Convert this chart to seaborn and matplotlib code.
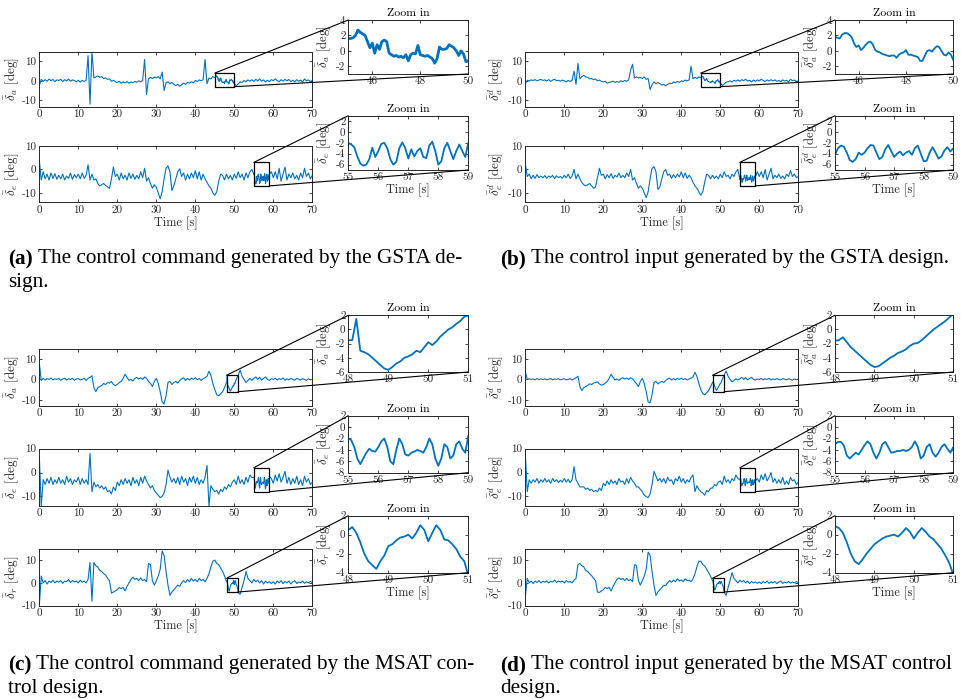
import numpy as np
import matplotlib
matplotlib.use("Agg")
import matplotlib.pyplot as plt
from matplotlib.patches import Rectangle, ConnectionPatch
import seaborn as sns

# ---------------------------------------------------------------- time bases
t_main = np.linspace(0, 70, 141)      # 0.5 s samples for the full runs
t_45_50 = np.linspace(45, 50, 51)     # 0.1 s samples inside the zoom windows
t_55_59 = np.linspace(55, 59, 41)
t_48_51 = np.linspace(48, 51, 31)

# ---------------------------------------------------------------- GSTA command
gsta_cmd_a = [
    -2.5, 0.8, -0.3, 0.6, -0.2, 0.9, 0.1, 0.7, -0.4, 0.5,
    0.2, 0.8, -0.3, 0.6, 0.0, 0.9, -0.2, 0.5, 0.1, -0.5,
    0.3, -0.6, 0.2, -0.3, 0.3, 13.0, -12.0, 15.0, 1.5, 2.0,
    2.5, 1.8, 2.2, 1.2, 1.5, 0.8, 1.0, -0.2, 0.3, -0.5,
    -0.8, -0.3, -1.2, -0.5, -1.0, -0.4, -1.2, -0.6, -0.9, -0.3,
    -0.8, 0.0, -0.5, 0.2, 11.0, -7.0, 1.0, 1.8, 1.2, 2.0,
    1.5, 2.2, 1.0, 4.5, -5.0, -1.0, -0.5, -1.5, -0.8, -1.8,
    -2.5, -1.8, -2.8, -2.0, -1.2, -1.8, -0.8, -1.2, -0.5, -1.0,
    0.2, -0.4, 0.5, 0.0, 0.6, 11.0, -1.5, 1.5, 1.0, 2.2,
    1.6, 2.4, 0.6, 1.2, -0.6, -0.7, -0.5, -1.0, 0.2, 0.0,
    -1.3, -2.6, -1.5, -0.5, -0.8, 0.2, -0.4, 0.5, -0.2, 0.6,
    -0.3, 0.8, 0.0, 1.0, -0.2, 0.5, -0.6, 0.3, -0.4, 0.6,
    0.1, 1.0, 0.2, -0.5, 0.6, -0.2, 0.8, 0.0, 0.7, -0.4,
    0.3, -0.5, 0.6, -0.2, 0.4, -0.6, 1.0, 0.0, 0.5, -0.3,
    0.2,
]
gsta_cmd_a_zoom = [
    1.6, 1.6, 1.7, 2.0, 2.7, 2.4, 2.2, 2.0, 1.2, 0.4,
    1.0, -0.3, 0.8, 0.2, 1.2, 1.4, 1.2, -0.3, -0.5, -0.7,
    -0.6, -0.8, -0.7, -0.9, -0.5, -1.3, -0.5, -0.3, -0.4, 0.7,
    -0.5, -0.6, -0.7, -0.6, -0.8, -1.0, -1.6, -1.0, 0.5, 0.2,
    0.2, 0.3, 0.8, 0.6, 0.4, 0.0, -0.6, 0.0, -0.4, -1.4,
    -1.3,
]
gsta_cmd_e = [
    4.0, -4.5, -1.0, -4.0, -2.0, -4.5, -1.5, -3.8, -1.8, -4.2,
    -2.5, -4.0, -2.0, -4.5, -2.8, -3.8, -1.5, -4.2, -2.2, -3.5,
    -2.0, -4.0, -1.5, -3.8, -2.5, 2.0, -4.5, -2.0, -4.5, -4.0,
    -6.0, -7.0, -6.5, -6.0, -6.8, -7.5, -8.0, -4.0, 1.0, -3.0,
    -2.0, -4.5, -1.5, -4.0, -2.5, -4.5, -1.5, -3.8, -2.0, -4.2,
    -2.5, -4.0, -1.0, -3.5, 0.5, -5.0, -3.5, -6.0, -8.0, -6.5,
    -7.5, -10.0, -12.5, -9.5, -4.0, 0.5, 1.5, -1.0, -9.0, -7.0,
    -4.0, -1.0, 0.3, -3.0, -1.5, -4.5, -2.0, -4.0, -1.5, -3.5,
    -0.5, -4.0, -1.0, -4.5, -2.0, -4.0, -5.5, -7.0, -8.0, -10.0,
    -11.0, -9.5, -5.0, -2.0, -2.5, -4.5, -2.0, -4.0, -2.5, -4.5,
    -2.0, -3.8, -1.0, -3.5, -2.0, -4.5, -1.5, -3.5, -1.0, 0.0,
    -2.0, -6.2, -3.5, -6.0, -4.9, -4.6, -6.0, -3.0, -2.0, -1.0,
    -3.5, -1.0, -4.0, 0.5, -5.0, -2.0, 1.0, -4.5, -2.0, -3.5,
    -1.5, -4.0, -2.5, -4.5, -1.5, -3.5, 0.5, -3.0, -1.5, -4.0,
    -2.5,
]
gsta_cmd_e_zoom = [
    -2.0, -2.3, -2.8, -4.5, -5.8, -6.2, -6.0, -5.0, -2.9, -4.6,
    -3.5, -2.2, -2.0, -3.0, -5.0, -6.0, -5.5, -3.0, -1.9, -3.0,
    -4.9, -3.2, -4.5, -3.5, -3.0, -4.6, -4.8, -2.5, -1.8, -3.5,
    -6.0, -5.4, -3.0, -2.0, -3.5, -5.0, -3.5, -2.3, -3.5, -4.6,
    -2.0,
]

# ---------------------------------------------------------------- GSTA input
gsta_in_a = [
    -1.5, 0.3, 0.0, 0.5, 0.2, 0.6, 0.0, 0.4, 0.8, 0.2,
    0.5, 0.0, 0.6, -0.3, 0.4, 0.8, 0.1, 0.3, -0.2, 0.4,
    0.0, -0.5, 0.2, -0.3, 0.3, 5.0, -1.8, 9.0, 1.0, 2.2,
    2.8, 2.0, 1.8, 1.0, 1.2, 0.6, 1.0, 0.0, 0.4, -0.3,
    -0.5, -0.2, -1.2, -0.8, -0.5, -0.2, -0.8, -0.4, -0.7, 0.0,
    -0.4, 0.2, -0.2, 0.5, 5.5, 8.5, 1.5, 2.0, 1.5, 1.8,
    1.2, 2.0, 0.8, 1.2, -4.5, -2.0, -0.5, -1.5, -0.8, -1.5,
    -2.2, -1.8, -2.5, -1.8, -1.2, -1.5, -0.6, -1.0, -0.3, -0.8,
    0.0, -0.3, 0.4, 0.0, 0.5, 7.5, 1.0, 1.8, 1.2, 2.0,
    1.8, 2.3, 0.7, 1.2, 0.1, -0.4, -0.6, -0.6, 0.1, -0.8,
    -1.2, -2.4, -1.6, -0.6, -0.5, 0.0, -0.6, 0.3, -0.2, 0.5,
    -0.2, 0.6, 0.1, 0.8, -0.1, 0.3, -0.5, 0.4, -0.2, 0.5,
    0.0, 0.8, 0.2, -0.4, 0.5, -0.1, 0.6, 0.0, 0.5, -0.3,
    0.2, -0.4, 0.5, -0.1, 0.3, -0.5, 0.8, 0.1, 0.4, -0.2,
    0.0,
]
gsta_in_a_zoom = [
    1.8, 1.7, 1.6, 2.1, 2.3, 2.3, 2.1, 1.8, 1.0, 0.5,
    0.7, 0.1, 0.4, 0.8, 1.1, 1.2, 0.8, 0.1, -0.1, -0.2,
    -0.4, -0.5, -0.6, -0.7, -0.6, -0.6, -0.9, -0.5, -0.3, -0.2,
    0.1, -0.5, -0.5, -0.6, -0.7, -0.8, -1.3, -1.3, -0.6, 0.0,
    0.1, -0.1, 0.3, 0.6, 0.5, 0.0, -0.5, -0.6, -0.2, -0.5,
    -1.2,
]
gsta_in_e = [
    2.5, -3.0, -2.0, -4.0, -2.5, -3.8, -2.2, -3.5, -2.8, -3.6,
    -2.6, -3.8, -2.8, -3.4, -2.5, -3.9, -2.7, -3.5, -3.0, -3.8,
    -2.5, -3.5, -2.0, -3.8, -2.8, 0.0, -4.0, -2.0, -4.0, -5.5,
    -6.5, -7.0, -6.5, -6.0, -7.0, -8.0, -7.5, -3.5, 0.5, -2.5,
    -2.0, -4.0, -2.2, -3.5, -1.8, -3.8, -2.5, -3.2, -1.5, -3.5,
    -2.5, -3.5, -1.5, -3.0, 0.0, -4.5, -3.5, -6.0, -8.0, -7.0,
    -8.0, -10.0, -12.0, -9.5, -4.0, 0.5, 1.2, -1.0, -8.5, -7.5,
    -4.0, -1.0, 0.0, -2.5, -2.0, -3.8, -2.2, -3.5, -2.0, -3.2,
    -1.0, -3.5, -1.5, -3.8, -2.5, -3.5, -5.5, -7.0, -8.0, -9.5,
    -11.0, -9.5, -5.5, -2.0, -2.5, -4.0, -2.5, -3.8, -2.8, -4.0,
    -2.0, -3.5, -1.0, -3.0, -2.5, -4.0, -2.0, -3.0, -1.0, 0.0,
    -4.2, -5.2, -3.8, -5.0, -4.6, -3.5, -5.4, -4.9, -3.0, -1.0,
    -3.0, -1.0, -3.5, 0.0, -4.5, -2.0, 0.5, -4.0, -2.5, -3.5,
    -2.0, -3.8, -2.8, -4.0, -2.0, -3.0, -0.5, -3.0, -2.0, -3.5,
    -3.0,
]
gsta_in_e_zoom = [
    -4.2, -3.0, -2.5, -2.7, -3.8, -5.2, -5.5, -5.0, -3.8, -4.2,
    -3.8, -3.0, -2.4, -2.5, -3.8, -5.0, -4.6, -3.2, -2.4, -3.5,
    -4.6, -4.0, -3.6, -4.3, -3.8, -3.5, -4.2, -3.0, -2.5, -4.0,
    -5.4, -5.3, -3.8, -2.8, -3.8, -4.9, -4.5, -3.4, -2.8, -3.6,
    -3.0,
]

# ---------------------------------------------------------------- MSAT command
msat_cmd_a = [
    8.0, -0.5, 0.5, -0.3, 0.4, 0.0, 0.6, -0.2, 0.3, 0.0,
    0.5, -0.4, 0.2, 0.6, -0.3, 0.3, 0.0, 0.5, -0.4, 0.2,
    0.4, -0.3, 0.0, 0.6, -0.5, 0.5, 1.0, 1.8, -4.0, -6.0,
    -4.0, -3.5, -3.0, -2.0, -2.5, -1.5, -1.8, -1.0, -2.5, -3.0,
    -2.5, -1.5, -1.0, 0.5, 2.5, 1.0, -0.5, 0.0, -0.8, 0.5,
    1.0, 0.2, 0.8, 0.0, 1.2, 0.5, -1.0, -2.0, -3.5, -1.0,
    0.5, -2.0, -6.0, -11.0, -12.0, -8.0, -1.5, -1.0, -2.5, -1.5,
    -1.0, -1.8, -0.5, 0.2, 0.8, -0.5, 0.5, -0.3, 0.6, 0.0,
    0.8, -0.2, 0.5, -0.5, 0.3, 0.8, 1.5, 4.0, 2.0, -2.0,
    -5.0, -7.5, -8.0, -7.0, -6.0, -4.0, -1.5, -4.0, -5.7, -3.8,
    -1.8, 0.0, 2.0, 4.5, 1.5, 0.0, -1.5, -0.5, 0.5, -0.5,
    0.5, 1.2, 0.0, 1.0, -0.3, 0.5, 1.2, 0.0, -0.5, 0.3,
    0.0, 0.6, -0.3, 0.4, 0.0, 0.7, -0.4, 0.3, -0.2, 0.5,
    0.0, -0.4, 0.5, 0.1, -0.3, 0.4, 0.0, -0.5, 0.3, -0.2,
    0.0,
]
msat_cmd_a_zoom = [
    -1.5, -1.5, 1.5, -3.0, -3.2, -3.5, -4.0, -4.5, -5.0, -5.5,
    -5.7, -5.3, -4.8, -4.5, -4.0, -3.8, -3.5, -3.0, -3.2, -2.5,
    -1.8, -2.2, -1.7, -1.0, -0.5, 0.0, 0.3, 0.8, 1.2, 1.8,
    2.0,
]
msat_cmd_e = [
    7.0, -14.0, -3.0, -5.0, -2.5, -4.5, -2.0, -5.0, -3.0, -4.5,
    -2.0, -4.5, -3.0, -5.0, -1.5, -4.0, -2.5, -5.0, -3.0, -4.0,
    -2.0, -5.0, -2.5, -4.5, -3.0, -5.0, 8.0, -8.0, -4.0, -6.0,
    -5.0, -6.5, -5.5, -7.0, -6.0, -8.0, -7.5, -9.0, -6.0, -7.5,
    -4.0, -5.5, -3.0, -5.0, -2.5, -4.5, -3.0, -5.5, -2.0, -4.5,
    -3.0, -5.5, -2.0, -4.5, -1.5, -3.5, -5.0, -6.5, -5.5, -7.5,
    -8.5, -9.5, -10.5, -10.0, -8.5, -5.0, 1.0, -2.0, -4.0, -2.5,
    -4.5, -2.0, -5.0, -1.5, -4.0, -2.5, -5.5, -2.0, -4.0, -1.5,
    -4.5, -2.0, -5.0, -3.0, -4.5, -2.0, 3.0, -14.0, -5.5, -7.0,
    -8.0, -7.5, -9.0, -7.0, -8.0, -6.0, -7.0, -5.0, -6.0, -4.0,
    -3.0, -5.0, -1.5, -4.5, -3.0, -5.0, -2.0, -4.0, -1.0, -2.0,
    -2.0, -5.5, -3.5, -6.5, -5.0, -4.5, -6.8, -5.5, -5.0, -2.5,
    -4.5, -1.0, -3.5, -0.5, -4.0, -2.0, 0.5, -4.5, -2.0, -5.0,
    -2.5, -4.5, -1.5, -5.0, -3.0, -5.5, -1.5, -4.0, -2.5, -5.0,
    -4.0,
]
msat_cmd_e_zoom = [
    -2.0, -2.3, -3.5, -5.5, -6.5, -5.5, -4.5, -3.8, -4.2, -4.3,
    -3.5, -2.5, -2.0, -3.5, -6.0, -6.5, -4.0, -2.0, -3.0, -4.8,
    -5.0, -4.5, -4.3, -4.0, -4.2, -4.5, -3.5, -2.0, -3.0, -5.5,
    -6.8, -5.5, -3.0, -3.5, -5.5, -5.0, -3.0, -2.5, -3.8, -4.5,
    -1.5,
]
msat_cmd_r = [
    -10.0, 3.0, 0.0, 1.0, -0.5, 0.8, 0.2, 1.2, 0.0, 0.8,
    0.3, 1.0, -0.2, 0.8, 0.5, 1.5, 0.2, 1.0, 0.4, 0.9,
    0.0, 1.2, 0.3, 0.8, 0.0, 1.5, 9.0, -8.0, 9.0, 7.5,
    7.0, 5.5, 5.0, 4.0, 3.5, 2.0, 1.0, -4.5, -4.0, -3.5,
    -3.0, -2.0, -2.5, -2.0, -3.5, -1.5, 0.0, 1.5, 2.5, 1.5,
    2.0, 1.0, 2.2, 1.0, 1.5, 0.5, 8.5, 8.0, 1.0, -1.0,
    1.0, 3.0, 6.0, 14.0, 12.0, 5.0, -1.0, -5.5, -4.0, -3.0,
    -2.0, -1.0, -1.5, 0.0, 1.0, 0.2, 1.5, 0.5, 2.0, 0.8,
    1.5, 0.5, 2.0, 1.0, 1.5, 0.5, 2.0, 4.0, 7.0, 9.5,
    10.0, 8.5, 8.0, 6.5, 5.0, 3.0, 0.5, -2.8, -1.2, -0.2,
    0.0, 0.5, -4.3, -5.0, -2.0, 1.0, 5.0, 2.0, 1.0, 0.0,
    1.5, 0.5, 1.2, 0.0, 1.0, -0.5, 0.8, 0.0, 0.5, -0.3,
    0.5, -0.5, 0.8, 0.0, 1.0, -0.3, 0.6, 0.0, 0.8, -0.5,
    0.5, 1.0, -0.3, 0.4, 0.0, 0.8, -0.2, 0.5, 0.0, 0.6,
    0.2,
]
msat_cmd_r_zoom = [
    0.5, 0.8, 0.2, -0.8, -2.0, -2.8, -3.2, -3.6, -2.8, -2.2,
    -1.2, -1.0, -0.6, -0.3, -0.2, 0.0, -0.4, 0.2, 1.0, 0.5,
    -0.7, 0.2, 1.0, 0.5, -0.5, -0.6, -1.0, -1.5, -2.3, -2.8,
    -4.3,
]

# ---------------------------------------------------------------- MSAT input
msat_in_a = [
    4.0, 0.0, 0.3, 0.0, 0.2, -0.2, 0.4, 0.0, 0.2, -0.1,
    0.3, -0.2, 0.1, 0.4, -0.2, 0.2, 0.0, 0.3, -0.2, 0.1,
    0.3, -0.2, 0.0, 0.4, -0.3, 0.3, 0.8, 1.5, -3.5, -5.5,
    -4.0, -3.5, -3.0, -2.2, -2.5, -1.8, -1.5, -1.2, -2.2, -2.8,
    -2.5, -1.8, -1.0, 0.5, 2.5, 1.0, -0.3, 0.2, -0.5, 0.3,
    0.8, 0.2, 0.6, 0.0, 0.8, 0.3, -1.0, -2.0, -3.5, -1.0,
    0.5, -2.0, -6.0, -11.0, -11.5, -7.5, -1.5, -1.0, -2.2, -1.5,
    -1.0, -1.5, -0.5, 0.2, 0.6, -0.3, 0.4, -0.2, 0.5, 0.0,
    0.6, -0.1, 0.4, -0.3, 0.2, 0.6, 1.2, 3.5, 1.5, -2.0,
    -5.0, -7.0, -7.5, -6.5, -5.5, -3.5, -1.6, -3.0, -5.3, -3.7,
    -2.0, 0.0, 2.2, 4.0, 1.5, 0.0, -1.2, -0.5, 0.3, -0.3,
    0.3, 1.0, 0.0, 0.8, -0.2, 0.4, 1.0, 0.0, -0.3, 0.2,
    0.0, 0.4, -0.2, 0.3, 0.0, 0.5, -0.3, 0.2, -0.1, 0.4,
    0.0, -0.3, 0.4, 0.1, -0.2, 0.3, 0.0, -0.4, 0.2, -0.1,
    0.0,
]
msat_in_a_zoom = [
    -1.6, -1.5, -1.1, -1.8, -2.5, -3.0, -3.5, -4.0, -4.5, -5.0,
    -5.3, -5.2, -4.8, -4.4, -4.0, -3.7, -3.3, -3.1, -2.8, -2.3,
    -2.0, -1.9, -1.5, -1.0, -0.5, 0.0, 0.4, 0.8, 1.2, 1.7,
    2.2,
]
msat_in_e = [
    8.0, -8.0, -3.0, -4.5, -3.0, -4.0, -2.5, -4.5, -3.0, -4.0,
    -2.5, -4.0, -3.0, -4.5, -2.5, -3.8, -3.0, -4.2, -3.2, -4.0,
    -2.5, -4.0, -2.8, -4.2, -3.0, 2.5, -3.0, -4.5, -6.0, -6.0,
    -6.0, -7.0, -6.5, -7.5, -7.0, -8.0, -7.5, -8.0, -6.5, -7.5,
    -4.5, -5.5, -3.5, -5.0, -3.0, -4.5, -3.5, -5.0, -2.5, -4.0,
    -3.5, -5.0, -2.5, -4.5, -2.0, -3.5, -4.5, -6.0, -6.0, -7.0,
    -8.0, -9.5, -10.0, -10.5, -9.0, -5.0, 0.5, -1.5, -3.5, -2.5,
    -4.0, -2.5, -4.5, -2.0, -3.5, -3.0, -5.0, -2.5, -3.5, -1.5,
    -4.0, -2.5, -4.5, -3.0, -4.0, -2.0, -1.0, -8.0, -5.5, -7.0,
    -8.0, -8.5, -9.5, -7.5, -8.0, -6.5, -6.5, -5.0, -5.5, -4.0,
    -3.5, -5.0, -1.5, -4.0, -3.0, -4.5, -2.5, -3.5, -1.0, -2.5,
    -3.0, -5.5, -3.2, -4.5, -4.4, -4.0, -5.0, -4.5, -3.5, -2.5,
    -4.0, -1.0, -3.0, -0.5, -3.5, -2.0, 0.0, -4.0, -2.5, -4.5,
    -3.0, -4.5, -2.0, -5.0, -3.5, -5.0, -2.0, -3.5, -3.0, -5.0,
    -4.0,
]
msat_in_e_zoom = [
    -3.0, -2.6, -2.6, -3.2, -5.0, -5.5, -5.0, -4.5, -4.8, -4.0,
    -3.2, -2.5, -3.0, -4.5, -5.5, -4.5, -3.0, -2.6, -3.5, -4.5,
    -4.4, -4.2, -4.2, -4.0, -4.2, -4.0, -3.5, -2.5, -3.5, -5.5,
    -5.0, -3.5, -3.0, -4.5, -5.2, -4.5, -3.5, -3.0, -3.8, -4.5,
    -3.5,
]
msat_in_r = [
    -6.0, 2.0, 0.0, 0.8, -0.3, 0.8, 0.2, 1.0, 0.0, 0.7,
    0.3, 0.9, 0.0, 0.7, 0.4, 1.2, 0.2, 0.8, 0.4, 0.8,
    0.0, 1.0, 0.3, 0.6, 0.0, 1.2, 2.0, 8.0, 8.5, 7.5,
    7.0, 5.5, 5.0, 4.0, 3.2, 2.0, 1.0, -4.0, -4.2, -3.5,
    -3.0, -2.0, -2.5, -2.0, -3.5, -1.5, 0.0, 1.5, 2.2, 1.5,
    2.0, 1.0, 2.0, 1.0, 1.5, 0.5, 8.0, 7.5, 1.0, -1.0,
    1.0, 3.0, 6.0, 13.5, 12.0, 5.0, -1.0, -5.5, -4.0, -3.0,
    -2.0, -1.0, -1.2, 0.0, 1.0, 0.3, 1.2, 0.5, 1.8, 0.8,
    1.3, 0.5, 1.8, 1.0, 1.2, 0.5, 1.8, 4.0, 7.0, 9.5,
    9.5, 8.0, 7.5, 6.0, 4.5, 3.0, 0.9, -2.8, -1.0, -0.1,
    -0.4, -0.5, -4.2, -5.5, -2.0, 1.0, 4.5, 2.0, 1.0, 0.0,
    1.2, 0.5, 1.0, 0.0, 0.8, -0.3, 0.6, 0.0, 0.4, -0.2,
    0.4, -0.3, 0.6, 0.0, 0.8, -0.2, 0.5, 0.0, 0.6, -0.3,
    0.4, 0.8, -0.2, 0.3, 0.0, 0.6, -0.1, 0.4, 0.0, 0.5,
    0.2,
]
msat_in_r_zoom = [
    0.9, 0.7, 0.2, -0.8, -2.0, -2.8, -3.1, -2.6, -2.0, -1.5,
    -1.0, -0.7, -0.4, -0.2, -0.1, 0.0, -0.2, 0.2, 0.7, 0.3,
    -0.4, 0.2, 0.7, 0.3, -0.2, -0.5, -1.0, -1.5, -2.2, -3.0,
    -4.2,
]

# ---------------------------------------------------------------- labels
caption_tags = ["(a)", "(b)", "(c)", "(d)"]
caption_lines = [
    [" The control command generated by the GSTA de-", "sign."],
    [" The control input generated by the GSTA design."],
    [" The control command generated by the MSAT con-", "trol design."],
    [" The control input generated by the MSAT control", "design."],
]
main_ticks = [0, 10, 20, 30, 40, 50, 60, 70]
time_label = "Time [s]"
zoom_title = "Zoom in"

# ---------------------------------------------------------------- style
sns.set_theme(style="ticks")
plt.rcParams.update({
    "font.family": ["cmr10", "DejaVu Serif"],
    "mathtext.fontset": "cm",
    "axes.formatter.use_mathtext": False,
    "axes.unicode_minus": False,
})
BLUE = "#0072BD"
INK = "#262626"
W, H = 961, 699

fig = plt.figure(figsize=(W / 100, H / 100), dpi=100)
fig.patch.set_facecolor("white")


def px_axes(l, t, r, b):
    return fig.add_axes([l / W, 1 - b / H, (r - l) / W, (b - t) / H])


def dress(ax):
    ax.set_facecolor("white")
    ax.tick_params(direction="in", top=True, right=True, length=2.5,
                   width=0.6, color=INK, labelcolor=INK, labelsize=8, pad=2)
    for s in ax.spines.values():
        s.set_color(INK)
        s.set_linewidth(0.7)


def splice(coarse, t_fine, fine):
    """Replace the coarse samples inside the zoom window with the fine ones."""
    coarse = np.asarray(coarse, float)
    keep = (t_main < t_fine[0] - 1e-9) | (t_main > t_fine[-1] + 1e-9)
    t = np.concatenate([t_main[keep], t_fine])
    v = np.concatenate([coarse[keep], np.asarray(fine, float)])
    order = np.argsort(t)
    return t[order], v[order]


def row(main_box, inset_box, coarse, t_fine, fine, ylim, yticks,
        iylim, iyticks, ixticks, sym, last, lab_right, ilw=1.3):
    ax = px_axes(*main_box)
    tt, vv = splice(coarse, t_fine, fine)
    sns.lineplot(x=tt, y=vv, ax=ax, color=BLUE, linewidth=0.8,
                 estimator=None, sort=False, legend=False)
    ax.set_xlim(0, 70)
    ax.set_ylim(*ylim)
    ax.set_xticks(main_ticks)
    ax.set_yticks(yticks)
    ax.set_ylabel(sym + " [deg]", fontsize=9.5)
    mw = main_box[2] - main_box[0]
    ax.yaxis.set_label_coords((lab_right - main_box[0]) / mw, 0.5)
    ax.set_xlabel(time_label if last else "", fontsize=8.8, labelpad=1)
    dress(ax)

    ins = px_axes(*inset_box)
    sns.lineplot(x=np.asarray(t_fine), y=np.asarray(fine, float), ax=ins,
                 color=BLUE, linewidth=ilw, estimator=None, sort=False,
                 legend=False)
    ins.set_xlim(t_fine[0], t_fine[-1])
    ins.set_ylim(*iylim)
    ins.set_xticks(ixticks)
    ins.set_yticks(iyticks)
    ins.set_title(zoom_title, fontsize=8.5, pad=3, color="black")
    ins.set_ylabel(sym + " [deg]", fontsize=9.2)
    iw = inset_box[2] - inset_box[0]
    ins.yaxis.set_label_coords(-15.0 / iw, 0.5)
    ins.set_xlabel(time_label if last else "", fontsize=8.8, labelpad=1)
    dress(ins)

    x0, x1 = t_fine[0], t_fine[-1]
    y0, y1 = iylim
    ax.add_patch(Rectangle((x0, y0), x1 - x0, y1 - y0, fill=False,
                           ec="black", lw=0.9, zorder=5, clip_on=False))
    for a, b in (((x0, y1), (0, 1)), ((x1, y0), (1, 0))):
        con = ConnectionPatch(xyA=a, coordsA=ax.transData, xyB=b,
                              coordsB=ins.transAxes, color="black", lw=0.8,
                              zorder=6)
        fig.add_artist(con)


def sym_of(ch, sup):
    return r"$\bar{\delta}%s_%s$" % ("^d" if sup else "", ch)


# panel layout: (main left, main right, inset left, inset right, label edge)
cols = [(39.3, 312.3, 348.3, 468.3, 21.0), (525.3, 798.3, 835.0, 953.3, 505.0)]

# top row: GSTA
for k, (cmd_a, za, cmd_e, ze) in enumerate([
        (gsta_cmd_a, gsta_cmd_a_zoom, gsta_cmd_e, gsta_cmd_e_zoom),
        (gsta_in_a, gsta_in_a_zoom, gsta_in_e, gsta_in_e_zoom)]):
    ml, mr, il, ir, le = cols[k]
    row((ml, 51.7, mr, 106.7), (il, 20.0, ir, 74.0), cmd_a, t_45_50, za,
        (-13.3, 15), [-10, 0, 10], (-3, 4), [-2, 0, 2, 4], [46, 48, 50],
        sym_of("a", k == 1), False, le, ilw=2.0 if k == 0 else 1.3)
    row((ml, 146.0, mr, 202.3), (il, 115.7, ir, 170.0), cmd_e, t_55_59, ze,
        (-14, 10), [-10, 0, 10], (-7, 3), [-6, -4, -2, 0, 2],
        [55, 56, 57, 58, 59], sym_of("e", k == 1), True, le)

# bottom row: MSAT
for k, (sa, za, se, ze, sr, zr) in enumerate([
        (msat_cmd_a, msat_cmd_a_zoom, msat_cmd_e, msat_cmd_e_zoom,
         msat_cmd_r, msat_cmd_r_zoom),
        (msat_in_a, msat_in_a_zoom, msat_in_e, msat_in_e_zoom,
         msat_in_r, msat_in_r_zoom)]):
    ml, mr, il, ir, le = cols[k]
    row((ml, 348.7, mr, 406.0), (il, 315.3, ir, 372.0), sa, t_48_51, za,
        (-13, 15), [-10, 0, 10], (-6, 2), [-6, -4, -2, 0, 2],
        [48, 49, 50, 51], sym_of("a", k == 1), False, le)
    row((ml, 448.7, mr, 506.0), (il, 415.7, ir, 472.7), se, t_55_59, ze,
        (-14, 10), [-10, 0, 10], (-8, 2), [-8, -6, -4, -2, 0, 2],
        [55, 56, 57, 58, 59], sym_of("e", k == 1), False, le)
    row((ml, 548.7, mr, 605.7), (il, 515.7, ir, 572.7), sr, t_48_51, zr,
        (-10, 15), [-10, 0, 10], (-4, 2), [-4, -2, 0, 2],
        [48, 49, 50, 51], sym_of("r", k == 1), True, le)

# ---------------------------------------------------------------- captions
renderer = fig.canvas.get_renderer()
cap_pos = [(8, 259, 283), (500, 259, 283), (8, 665, 689), (500, 665, 689)]
cap_font = dict(family=["Liberation Serif", "DejaVu Serif"], size=15.3,
                color="black", va="center")
for tag, lines, (x, y1, y2) in zip(caption_tags, caption_lines, cap_pos):
    lab = fig.text(x / W, 1 - y1 / H, tag, weight="bold", **cap_font)
    x_end = lab.get_window_extent(renderer).x1
    fig.text(x_end / W, 1 - y1 / H, lines[0], **cap_font)
    if len(lines) > 1:
        fig.text(x / W, 1 - y2 / H, lines[1], **cap_font)

fig.savefig("out.png", dpi=100, facecolor="white")
